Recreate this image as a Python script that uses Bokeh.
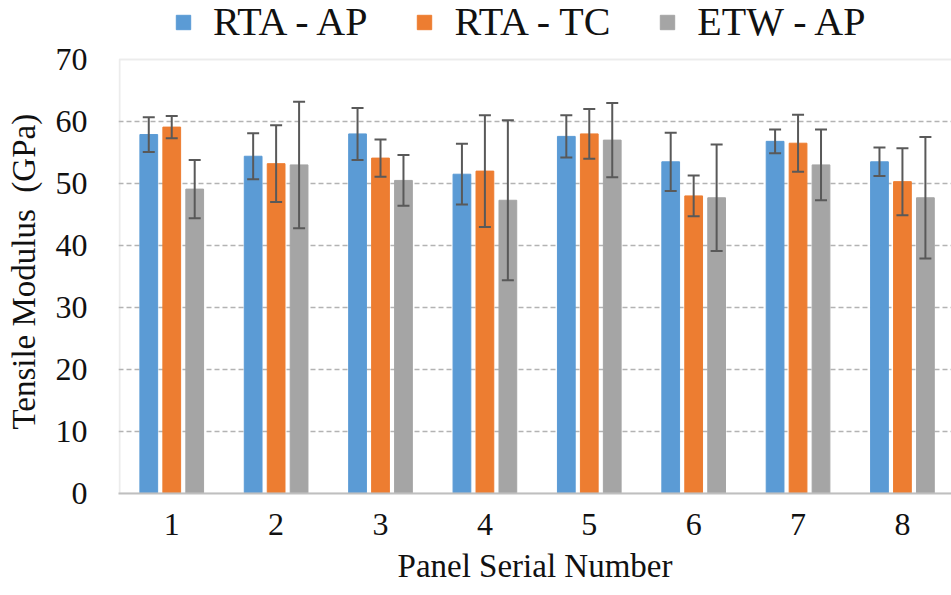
from bokeh.plotting import figure
from bokeh.models import (ColumnDataSource, Range1d, FixedTicker, Whisker, TeeHead,
                          Legend, LegendItem, BoxAnnotation)
from bokeh.embed import file_html
from bokeh.resources import INLINE

# ---- data ----
panels = [1, 2, 3, 4, 5, 6, 7, 8]
tick_labels = ["1", "2", "3", "4", "5", "6", "7", "8"]
series_names = ["RTA - AP", "RTA - TC", "ETW - AP"]

rta_ap = [57.9, 54.4, 58.0, 51.5, 57.6, 53.5, 56.8, 53.5]
rta_ap_err = [2.8, 3.7, 4.2, 4.9, 3.4, 4.7, 1.9, 2.3]

rta_tc = [59.1, 53.2, 54.1, 52.0, 58.0, 48.0, 56.5, 50.3]
rta_tc_err = [1.8, 6.2, 3.0, 9.0, 4.0, 3.3, 4.6, 5.4]

etw_ap = [49.1, 53.0, 50.5, 47.3, 57.0, 47.7, 53.0, 47.7]
etw_ap_err = [4.7, 10.2, 4.1, 12.9, 6.0, 8.6, 5.7, 9.8]

y_ticks = [0, 10, 20, 30, 40, 50, 60, 70]
y_min, y_max = 0, 70

# ---- style ----
colors = ["#5B9BD5", "#ED7D31", "#A5A5A5"]
offsets = [-0.22, 0.0, 0.22]
FONT = "Liberation Serif"
TXT = "#111111"
FRAME = "#bfbfbf"
NB = "\u00a0"

# the frame runs up to the top of the page so the legend above the value area stays visible
p = figure(width=951, height=595, x_range=Range1d(0.49, 8.47), y_range=Range1d(0, 79.52),
           output_backend="svg", toolbar_location=None,
           min_border_left=118, min_border_right=0, min_border_top=0, min_border_bottom=102)
p.outline_line_color = None
p.background_fill_color = "white"
p.border_fill_color = "white"

items = []
for name, vals, errs, col, off in zip(series_names, [rta_ap, rta_tc, etw_ap],
                                      [rta_ap_err, rta_tc_err, etw_ap_err], colors, offsets):
    src = ColumnDataSource(dict(
        x=[c + off for c in panels],
        top=vals,
        upper=[v + e for v, e in zip(vals, errs)],
        lower=[v - e for v, e in zip(vals, errs)],
    ))
    r = p.vbar(x="x", top="top", bottom=0, width=0.17, source=src,
               fill_color=col, line_color=col, line_width=1)
    w = Whisker(base="x", upper="upper", lower="lower", source=src,
                line_color="#595959", line_width=2,
                upper_head=TeeHead(size=12, line_color="#595959", line_width=2),
                lower_head=TeeHead(size=12, line_color="#595959", line_width=2))
    w.level = "annotation"
    p.add_layout(w)
    items.append(LegendItem(label=name, renderers=[r]))

# plot-area border (left / top / bottom; right side runs past the page edge)
p.add_layout(BoxAnnotation(left=0.5, right=9.0, bottom=y_min, top=y_max,
                           fill_alpha=0, line_color=FRAME, line_width=2))

# grid
p.xgrid.visible = False
p.ygrid.ticker = FixedTicker(ticks=y_ticks[1:-1])
p.ygrid.grid_line_color = "#b3b3b3"
p.ygrid.grid_line_dash = "5 3"
p.ygrid.grid_line_width = 1.3

# y axis
ya = p.yaxis[0]
ya.ticker = FixedTicker(ticks=y_ticks)
ya.major_tick_line_color = None
ya.minor_tick_line_color = None
ya.major_tick_out = 0
ya.major_tick_in = 0
ya.axis_line_color = None
ya.major_label_text_font = FONT
ya.major_label_text_font_size = "32px"
ya.major_label_text_color = TXT
ya.major_label_standoff = 31
ya.axis_label = "Tensile Modulus" + NB + " (GPa)" + NB * 6
ya.axis_label_text_font = FONT
ya.axis_label_text_font_size = "33px"
ya.axis_label_text_font_style = "normal"
ya.axis_label_text_color = TXT
ya.axis_label_standoff = 11

# x axis
xa = p.xaxis[0]
xa.ticker = FixedTicker(ticks=panels)
xa.major_label_overrides = {k: v for k, v in zip(panels, tick_labels)}
xa.major_tick_line_color = None
xa.minor_tick_line_color = None
xa.major_tick_out = 0
xa.major_tick_in = 0
xa.axis_line_color = FRAME
xa.axis_line_width = 2
xa.major_label_text_font = FONT
xa.major_label_text_font_size = "32px"
xa.major_label_text_color = TXT
xa.major_label_standoff = 20
xa.axis_label = "Panel Serial Number"
xa.axis_label_text_font = FONT
xa.axis_label_text_font_size = "33px"
xa.axis_label_text_font_style = "normal"
xa.axis_label_text_color = TXT
xa.axis_label_standoff = 10

legend = Legend(items=items, location=(56, 448), orientation="horizontal",
                label_text_font=FONT, label_text_font_size="40px", label_text_color=TXT,
                glyph_width=18, glyph_height=18, label_standoff=21, spacing=48,
                padding=0, margin=0, border_line_color=None, background_fill_alpha=0)
p.add_layout(legend)

open("out.html", "w").write(file_html(p, INLINE))
